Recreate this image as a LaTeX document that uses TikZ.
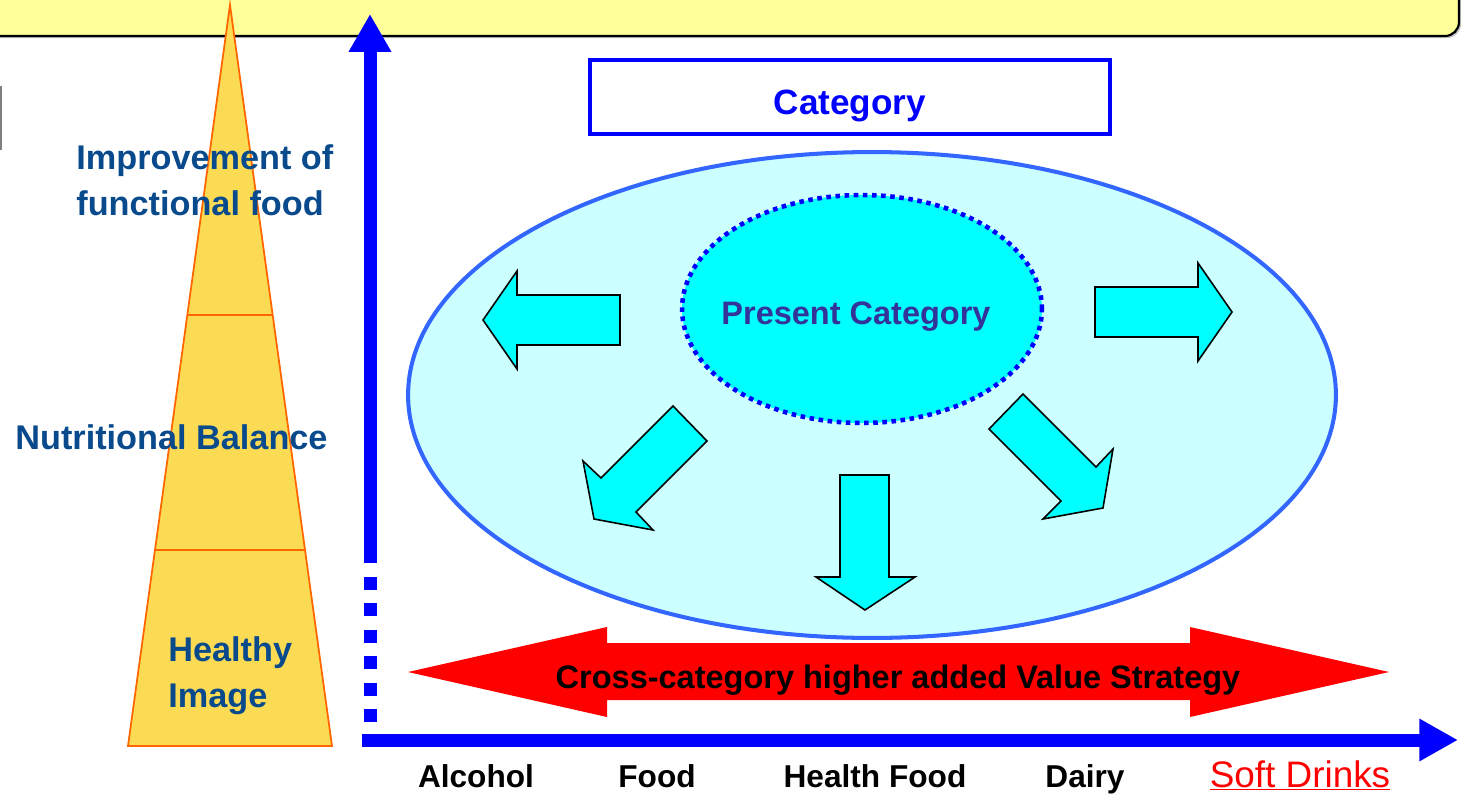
\documentclass[tikz,border=0pt]{standalone}
\usepackage{fontspec}
\setmainfont{Liberation Sans}
\usetikzlibrary{arrows.meta,shapes.geometric}

\definecolor{bandyellow}{RGB}{255,255,153}
\definecolor{pyrfill}{RGB}{252,219,84}
\definecolor{pyrline}{RGB}{255,102,0}
\definecolor{lblblue}{RGB}{8,74,140}
\definecolor{axisblue}{RGB}{0,0,255}
\definecolor{ovalblue}{RGB}{51,102,255}
\definecolor{ovalfill}{RGB}{204,255,255}
\definecolor{aqua}{RGB}{0,255,255}
\definecolor{innertext}{RGB}{51,51,153}

\tikzset{
  lvl/.style={text=lblblue, font=\fontsize{19.5}{26}\selectfont\bfseries, align=left, inner sep=0pt},
  catname/.style={font=\fontsize{18}{22}\selectfont\bfseries, inner sep=0pt, anchor=base},
  blockarrow/.style={draw=black, line width=0.9pt, fill=aqua, line join=miter},
  axisline/.style={axisblue, line width=7.4pt},
}

\begin{document}
\begin{tikzpicture}[x=0.02cm, y=-0.02cm]
	\useasboundingbox (0,0) rectangle (1461,795);

	% top band
	\begin{scope}
		\clip (0,0) rectangle (1461,795);
		\fill[gray!50, rounded corners=8] (-20,-30) rectangle (1461,38);
		\filldraw[fill=bandyellow, draw=black, line width=1.2pt, rounded corners=8] (-20,-30) rectangle (1459,36);
	\end{scope}
	\draw[gray, line width=1.2pt] (1,86) -- (1,150);

	% pyramid
	\coordinate (apex) at (230,5);
	\coordinate (bl)   at (128,746);
	\coordinate (br)   at (332,746);
	\filldraw[fill=pyrfill, draw=pyrline, line width=1pt] (apex) -- (br) -- (bl) -- cycle;
	\draw[pyrline, line width=1pt] (187,315) -- (273,315);
	\draw[pyrline, line width=1pt] (156,550) -- (304,550);

	\node[lvl, anchor=west] (improve)  at (76,180)  {Improvement of\\functional food};
	\node[lvl, anchor=west] (nutrient) at (15,437)  {Nutritional Balance};
	\node[lvl, anchor=west] (healthy)  at (168,676) {Healthy\\Image};

	% axes
	\coordinate (ytop)  at (370,14);
	\coordinate (ysol)  at (370,563);
	\coordinate (ydot)  at (370,577);
	\coordinate (yend)  at (370,723);
	\coordinate (xbeg)  at (362,740);
	\coordinate (xtip)  at (1458,740);
	\draw[axisline, -{Triangle[width=22.7pt,length=21.5pt]}] (ysol) -- (ytop);
	\draw[axisline, dash pattern=on 7.37pt off 7.7pt] (ydot) -- (yend);
	\draw[axisline, -{Triangle[width=22.7pt,length=22pt]}] (xbeg) -- (xtip);

	% category box
	\node[draw=axisblue, line width=2.3pt, minimum width=10.4cm, minimum height=1.48cm] (catbox) at (850,97) {};
	\node[text=axisblue, font=\fontsize{20}{24}\selectfont\bfseries, inner sep=0pt, anchor=base] (cat) at (850,114) {Category};

	% category ovals
	\node[ellipse, draw=ovalblue, fill=ovalfill, line width=2.3pt,
		minimum width=18.56cm, minimum height=9.72cm] (big) at (872,395) {};
	\node[ellipse, draw=axisblue, fill=aqua, line width=2.6pt, dash pattern=on 2.6pt off 2.6pt,
		minimum width=7.2cm, minimum height=4.56cm] (present) at (862,309) {};
	\node[text=innertext, font=\fontsize{18.5}{22}\selectfont\bfseries, inner sep=0pt, anchor=base]
		(presentlbl) at (856,324) {Present Category};

	% block arrows
	\draw[blockarrow] (483,320) -- (517,271) -- (517,295) -- (620,295) -- (620,345) -- (517,345) -- (517,369) -- cycle;
	\draw[blockarrow] (1095,287) -- (1198,287) -- (1198,263) -- (1232,312) -- (1198,361) -- (1198,337) -- (1095,337) -- cycle;
	\draw[blockarrow] (840,475) -- (889,475) -- (889,577) -- (915,577) -- (865,610) -- (816,577) -- (840,577) -- cycle;
	\draw[blockarrow] (673,406) -- (707,441) -- (636,512) -- (653,530) -- (594,519) -- (583,461) -- (601,478) -- cycle;
	\draw[blockarrow] (1023,394) -- (989,429) -- (1061,501) -- (1043,519) -- (1103,508) -- (1113,449) -- (1096,467) -- cycle;

	% strategy arrow
	\fill[red] (408,672) -- (607,627) -- (607,643) -- (1190,643) -- (1190,627) -- (1389,672)
		-- (1190,717) -- (1190,700) -- (607,700) -- (607,717) -- cycle;
	\node[font=\fontsize{18.5}{22}\selectfont\bfseries, inner sep=0pt, anchor=base] (cross) at (898,688)
		{Cross-category higher added Value Strategy};

	% categories on the axis
	\node[catname] (alcohol) at (476,787)  {Alcohol};
	\node[catname] (food)    at (657,787)  {Food};
	\node[catname] (hfood)   at (875,787)  {Health Food};
	\node[catname] (dairy)   at (1085,787) {Dairy};
	\node[inner sep=0pt, anchor=base, text=red, font=\fontsize{21}{24}\selectfont] (soft) at (1300,787) {\underline{Soft Drinks}};
\end{tikzpicture}
\end{document}
